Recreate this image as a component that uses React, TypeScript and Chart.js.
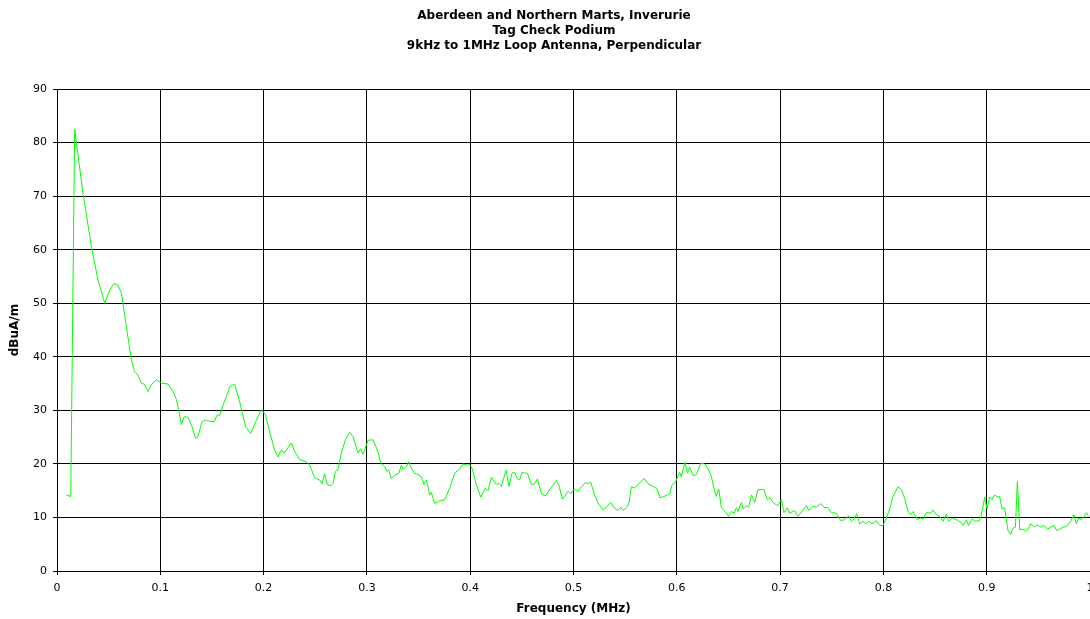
import { useEffect, useRef } from "react";
import { Chart, registerables } from "chart.js";

Chart.register(...registerables);

const titleLines = [
  "Aberdeen and Northern Marts, Inverurie",
  "Tag Check Podium",
  "9kHz to 1MHz Loop Antenna, Perpendicular",
];
const xAxisTitle = "Frequency (MHz)";
const yAxisTitle = "dBuA/m";

const xTickValues = [0, 0.1, 0.2, 0.3, 0.4, 0.5, 0.6, 0.7, 0.8, 0.9, 1];
const xTickLabels = ["0", "0.1", "0.2", "0.3", "0.4", "0.5", "0.6", "0.7", "0.8", "0.9", "1"];
const yTickValues = [0, 10, 20, 30, 40, 50, 60, 70, 80, 90];
const yTickLabels = ["0", "10", "20", "30", "40", "50", "60", "70", "80", "90"];

const freqMHz = [
  0.009, 0.0133, 0.0171, 0.0252, 0.0333, 0.0397, 0.0462, 0.051, 0.0552, 0.059,
  0.0623, 0.0672, 0.072, 0.0752, 0.0784, 0.0817, 0.0843, 0.0881, 0.0914, 0.0962,
  0.101, 0.1075, 0.1123, 0.1156, 0.1178, 0.1204, 0.123, 0.1268, 0.1301, 0.134,
  0.1365, 0.1404, 0.1446, 0.1488, 0.152, 0.1553, 0.1575, 0.1607, 0.164, 0.1672,
  0.172, 0.1768, 0.1827, 0.1875, 0.1924, 0.1978, 0.2017, 0.2059, 0.2107, 0.2139,
  0.2172, 0.2198, 0.2269, 0.2301, 0.235, 0.2414, 0.2446, 0.2495, 0.2543, 0.2566,
  0.2591, 0.2617, 0.265, 0.2672, 0.2695, 0.2721, 0.2753, 0.2792, 0.2834, 0.2866,
  0.2914, 0.2937, 0.2962, 0.3011, 0.3059, 0.3107, 0.3134, 0.3172, 0.3195, 0.3211,
  0.3237, 0.3276, 0.3308, 0.3334, 0.335, 0.3382, 0.3405, 0.3431, 0.3456, 0.3495,
  0.3527, 0.3553, 0.3576, 0.3608, 0.3624, 0.3656, 0.3705, 0.3753, 0.3802, 0.385,
  0.3898, 0.393, 0.3963, 0.3995, 0.4018, 0.406, 0.4102, 0.4147, 0.4172, 0.4205,
  0.4254, 0.4276, 0.4302, 0.4347, 0.4376, 0.4405, 0.4431, 0.4457, 0.4479, 0.4502,
  0.4554, 0.4593, 0.4624, 0.4651, 0.469, 0.4728, 0.477, 0.4834, 0.4857, 0.4893,
  0.4931, 0.4947, 0.4973, 0.5005, 0.5044, 0.5076, 0.5115, 0.514, 0.5166, 0.5205,
  0.5237, 0.5286, 0.5328, 0.536, 0.5392, 0.5431, 0.5457, 0.5479, 0.5512, 0.5537,
  0.556, 0.5592, 0.5641, 0.5682, 0.5721, 0.577, 0.5812, 0.5835, 0.5876, 0.5931,
  0.5954, 0.5986, 0.6006, 0.6028, 0.6044, 0.6077, 0.6103, 0.6125, 0.6157, 0.619,
  0.6231, 0.6263, 0.6302, 0.6335, 0.6367, 0.6383, 0.6406, 0.6432, 0.647, 0.6502,
  0.6528, 0.6554, 0.6577, 0.6593, 0.6625, 0.6641, 0.6674, 0.6696, 0.6722, 0.6754,
  0.6786, 0.6844, 0.6877, 0.69, 0.6931, 0.6974, 0.7013, 0.7038, 0.707, 0.7093,
  0.7141, 0.7173, 0.7222, 0.7255, 0.7277, 0.7319, 0.7351, 0.7393, 0.7425, 0.7464,
  0.7497, 0.7545, 0.7587, 0.7625, 0.7664, 0.769, 0.7716, 0.7742, 0.777, 0.7803,
  0.7835, 0.7858, 0.789, 0.7932, 0.7964, 0.7996, 0.8029, 0.8061, 0.8093, 0.8141,
  0.8174, 0.8206, 0.8238, 0.8264, 0.8287, 0.8329, 0.8361, 0.8387, 0.8416, 0.8458,
  0.848, 0.8513, 0.8545, 0.8577, 0.861, 0.8632, 0.8664, 0.8707, 0.8748, 0.8771,
  0.8803, 0.8825, 0.8858, 0.889, 0.8932, 0.8955, 0.8981, 0.9003, 0.9029, 0.9051,
  0.9077, 0.9104, 0.9126, 0.9148, 0.9174, 0.9206, 0.9232, 0.9254, 0.9278, 0.9297,
  0.932, 0.9351, 0.9375, 0.94, 0.9426, 0.9458, 0.9491, 0.9523, 0.9555, 0.9588,
  0.962, 0.9652, 0.9675, 0.9707, 0.9739, 0.9771, 0.9813, 0.9845, 0.9868, 0.989,
  0.9917, 0.9942, 0.9965, 0.9987,
];

const levelDbuAm = [
  14.2, 13.9, 82.5, 70.5, 60.6, 54.3, 50.0, 52.5, 53.7, 53.4,
  51.9, 45.6, 39.4, 37.2, 36.6, 35.1, 34.9, 33.5, 34.8, 35.7,
  35.1, 34.9, 33.5, 32.0, 30.1, 27.3, 28.8, 28.7, 27.3, 24.8,
  25.1, 27.9, 28.2, 27.9, 27.9, 29.2, 29.0, 31.0, 32.6, 34.4,
  34.9, 31.6, 26.9, 25.7, 27.9, 30.1, 29.2, 26.0, 22.6, 21.3,
  22.6, 22.0, 23.9, 22.3, 20.8, 20.4, 19.8, 17.4, 17.0, 16.3,
  18.2, 16.1, 15.9, 16.4, 18.6, 19.0, 22.0, 24.5, 25.9, 25.1,
  22.0, 22.8, 21.8, 24.4, 24.5, 22.3, 20.1, 19.5, 18.6, 18.9,
  17.2, 18.0, 18.2, 19.8, 19.0, 19.5, 20.4, 19.2, 18.3, 18.0,
  17.6, 16.1, 17.0, 14.2, 14.7, 12.6, 13.1, 13.3, 15.5, 18.3,
  19.0, 20.0, 19.8, 19.8, 19.2, 16.1, 13.8, 15.5, 15.0, 17.5,
  16.1, 16.4, 15.8, 18.8, 15.8, 18.3, 18.4, 17.2, 17.0, 18.4,
  18.2, 16.1, 16.3, 17.2, 14.4, 14.0, 15.2, 16.9, 16.1, 13.4,
  14.4, 14.9, 14.4, 15.3, 14.9, 15.7, 16.5, 16.3, 16.6, 14.2,
  12.7, 11.4, 12.1, 12.8, 11.8, 11.3, 11.9, 11.3, 11.8, 12.7,
  15.7, 15.5, 16.4, 17.3, 16.3, 15.8, 15.3, 13.7, 13.9, 14.4,
  16.1, 16.5, 17.5, 18.4, 17.6, 20.3, 18.3, 19.4, 17.8, 18.0,
  20.1, 20.1, 19.2, 17.6, 14.9, 13.9, 15.3, 11.8, 11.1, 10.2,
  11.1, 10.8, 11.8, 11.1, 12.8, 11.6, 12.2, 11.9, 14.2, 12.8,
  15.2, 15.2, 13.3, 13.7, 12.8, 12.2, 13.3, 10.9, 11.8, 10.8,
  11.3, 10.2, 11.4, 12.2, 11.3, 12.1, 11.9, 12.6, 11.9, 11.8,
  10.9, 10.8, 9.4, 9.6, 10.3, 9.3, 9.7, 10.7, 8.8, 9.3,
  8.8, 9.3, 8.8, 9.4, 8.5, 8.5, 9.9, 11.6, 13.9, 15.7,
  15.2, 13.6, 11.1, 10.5, 11.1, 9.6, 9.9, 9.7, 10.9, 10.8,
  11.4, 10.5, 10.2, 9.3, 10.6, 9.3, 9.9, 9.6, 9.1, 8.5,
  9.6, 8.5, 9.7, 9.3, 9.4, 11.1, 13.8, 11.6, 13.8, 13.3,
  14.2, 13.8, 13.9, 11.6, 11.8, 7.6, 6.8, 8.0, 8.2, 16.7,
  7.7, 7.8, 7.4, 7.8, 8.8, 8.3, 8.6, 8.2, 8.5, 7.8,
  8.2, 8.5, 7.6, 7.8, 8.2, 8.3, 9.3, 10.5, 8.8, 9.9,
  9.6, 10.2, 10.9, 10.2,
];

const FONT = "'DejaVu Sans', 'Liberation Sans', Arial, sans-serif";

export default function App() {
  const ref = useRef<HTMLCanvasElement>(null);

  useEffect(() => {
    const points = freqMHz.map((f, i) => ({ x: f, y: levelDbuAm[i] }));
    const chart = new Chart(ref.current as HTMLCanvasElement, {
      type: "line",
      data: {
        datasets: [
          {
            data: points,
            borderColor: "#00ff00",
            borderWidth: 1,
            pointRadius: 0,
            tension: 0,
            fill: false,
            yAxisID: "y",
          },
        ],
      },
      options: {
        responsive: false,
        animation: false,
        devicePixelRatio: 1,
        layout: { padding: 0 },
        plugins: {
          legend: { display: false },
          tooltip: { enabled: false },
          title: {
            display: true,
            text: titleLines,
            color: "#000",
            font: { family: FONT, size: 12, weight: "bold", lineHeight: 1.25 },
            padding: { top: 8, bottom: 36 },
          },
        },
        scales: {
          x: {
            type: "linear",
            position: "bottom",
            min: 0,
            max: 1,
            afterBuildTicks: (s: any) => {
              s.ticks = xTickValues.map((value) => ({ value }));
            },
            afterFit: (s: any) => {
              s.height = 48;
              s.paddingLeft = 0;
              s.paddingRight = 0;
            },
            ticks: {
              callback: (_v: any, i: number) => xTickLabels[i],
              color: "#000",
              font: { family: FONT, size: 11 },
              padding: 7,
              maxRotation: 0,
              autoSkip: false,
            },
            grid: { color: "#000", lineWidth: 1, tickLength: 4 },
            border: { color: "#000" },
            title: {
              display: true,
              text: xAxisTitle,
              color: "#000",
              font: { family: FONT, size: 12, weight: "bold" },
              padding: { top: 0, bottom: 3 },
            },
          },
          y: {
            type: "linear",
            position: "left",
            min: 0,
            max: 90,
            afterBuildTicks: (s: any) => {
              s.ticks = yTickValues.map((value) => ({ value }));
            },
            afterFit: (s: any) => {
              s.width = 57;
              s.paddingTop = 0;
              s.paddingBottom = 0;
            },
            ticks: {
              callback: (_v: any, i: number) => yTickLabels[i],
              color: "#000",
              font: { family: FONT, size: 11 },
              padding: 6,
            },
            grid: { color: "#000", lineWidth: 1, tickLength: 4 },
            border: { color: "#000" },
            title: {
              display: true,
              text: yAxisTitle,
              color: "#000",
              font: { family: FONT, size: 12, weight: "bold" },
              padding: { top: 8, bottom: 0 },
            },
          },
          rightSpacer: {
            type: "linear",
            position: "right",
            display: true,
            grid: { display: false, drawTicks: false },
            ticks: { display: false },
            border: { display: false },
            afterFit: (s: any) => {
              s.width = 18;
              s.paddingTop = 0;
              s.paddingBottom = 0;
            },
          },
        },
      },
    } as any);
    return () => chart.destroy();
  }, []);

  return (
    <div
      style={{
        position: "fixed",
        left: 0,
        top: 0,
        width: 1090,
        height: 619,
        overflow: "hidden",
        background: "#fff",
      }}
    >
      <canvas
        ref={ref}
        width={1108}
        height={619}
        style={{ display: "block", width: 1108, height: 619 }}
      />
    </div>
  );
}
